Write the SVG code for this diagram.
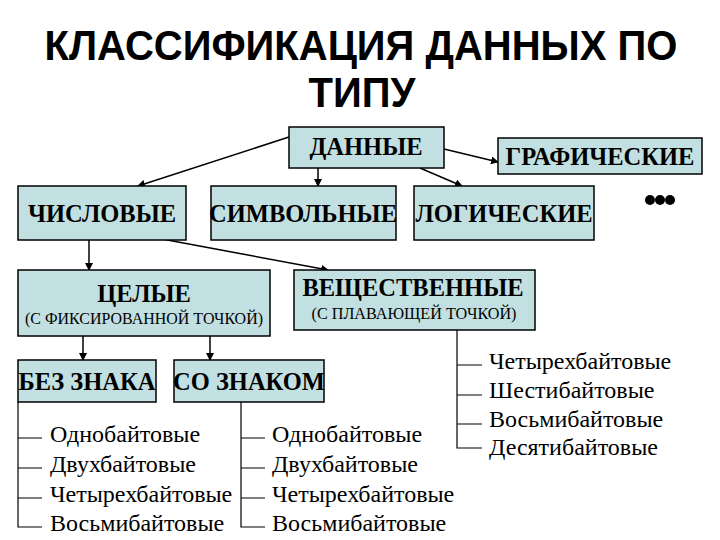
<svg xmlns="http://www.w3.org/2000/svg" width="720" height="540" viewBox="0 0 720 540">
<style>
.box{fill:#c2e0e1;stroke:#000;stroke-width:1.5}
.bt{font-family:"Liberation Serif",serif;font-weight:bold;font-size:24.5px;text-anchor:middle;fill:#000}
.st{font-family:"Liberation Serif",serif;font-size:16.5px;text-anchor:middle;fill:#000}
.lt{font-family:"Liberation Serif",serif;font-size:24px;fill:#000}
.title{font-family:"Liberation Sans",Arial,sans-serif;font-weight:bold;font-size:40px;text-anchor:middle;fill:#000}
.ln{stroke:#000;stroke-width:1.5;fill:none}
.br{stroke:#000;stroke-width:1.2;fill:none}
</style>
<defs>
<marker id="ah" markerWidth="8" markerHeight="8" refX="7" refY="4" orient="auto" markerUnits="userSpaceOnUse">
<path d="M0,0 L8,4 L0,8 Z" fill="#000"/>
</marker>
</defs>
<rect width="720" height="540" fill="#fff"/>
<g id="title">
<text class="title" transform="translate(361,60) scale(1,1.08)" x="0" y="0">КЛАССИФИКАЦИЯ ДАННЫХ ПО</text>
<text class="title" transform="translate(362,107) scale(1,1.08)" x="0" y="0">ТИПУ</text>
</g>
<g id="connectors">
<line class="ln" x1="289" y1="137" x2="138" y2="186" marker-end="url(#ah)"/>
<line class="ln" x1="318" y1="168" x2="318" y2="186" marker-end="url(#ah)"/>
<line class="ln" x1="444" y1="149" x2="498" y2="162" marker-end="url(#ah)"/>
<line class="ln" x1="420" y1="168" x2="462" y2="186" marker-end="url(#ah)"/>
<line class="ln" x1="89" y1="240" x2="89" y2="270" marker-end="url(#ah)"/>
<line class="ln" x1="162" y1="239" x2="328" y2="270" marker-end="url(#ah)"/>
<line class="ln" x1="83" y1="336" x2="83" y2="360" marker-end="url(#ah)"/>
<line class="ln" x1="210" y1="336" x2="210" y2="360" marker-end="url(#ah)"/>
<path class="br" d="M18,402 V527 H42 M18,438 H42 M18,468 H42 M18,498 H42"/>
<path class="br" d="M241,402 V527 H265 M241,438 H265 M241,468 H265 M241,498 H265"/>
<path class="br" d="M457,330 V448 H482 M457,365 H482 M457,395 H482 M457,424 H482"/>
</g>
<g id="n-dannye">
<rect class="box" x="289" y="127" width="155" height="41"/>
<text class="bt" x="366" y="155" font-size="22">ДАННЫЕ</text>
</g>
<g id="n-graf">
<rect class="box" x="498" y="138" width="204" height="36"/>
<text class="bt" x="600" y="165" font-size="23">ГРАФИЧЕСКИЕ</text>
</g>
<g id="n-chisl">
<rect class="box" x="18" y="186" width="168" height="54"/>
<text class="bt" x="102" y="222">ЧИСЛОВЫЕ</text>
</g>
<g id="n-simv">
<rect class="box" x="211" y="186" width="185" height="54"/>
<text class="bt" x="303" y="222">СИМВОЛЬНЫЕ</text>
</g>
<g id="n-log">
<rect class="box" x="414" y="186" width="180" height="54"/>
<text class="bt" x="504" y="222">ЛОГИЧЕСКИЕ</text>
</g>
<g id="n-dots">
<circle cx="650" cy="200" r="5" fill="#000"/>
<circle cx="660" cy="200" r="5" fill="#000"/>
<circle cx="670" cy="200" r="5" fill="#000"/>
</g>
<g id="n-celye">
<rect class="box" x="18" y="270" width="252" height="66"/>
<text class="bt" x="144" y="302" font-size="23.5">ЦЕЛЫЕ</text>
<text class="st" x="144" y="324" textLength="238" lengthAdjust="spacingAndGlyphs">(С ФИКСИРОВАННОЙ ТОЧКОЙ)</text>
</g>
<g id="n-vesh">
<rect class="box" x="294" y="270" width="241" height="60"/>
<text class="bt" x="413" y="296" font-size="23.5">ВЕЩЕСТВЕННЫЕ</text>
<text class="st" x="414" y="319" textLength="205" lengthAdjust="spacingAndGlyphs">(С ПЛАВАЮЩЕЙ ТОЧКОЙ)</text>
</g>
<g id="n-bez">
<rect class="box" x="18" y="360" width="138" height="42"/>
<text class="bt" x="87" y="390">БЕЗ ЗНАКА</text>
</g>
<g id="n-so">
<rect class="box" x="174" y="360" width="150" height="42"/>
<text class="bt" x="249" y="390" font-size="24">СО ЗНАКОМ</text>
</g>
<g id="list-bez">
<text class="lt" x="50" y="442">Однобайтовые</text>
<text class="lt" x="50" y="472">Двухбайтовые</text>
<text class="lt" x="50" y="502">Четырехбайтовые</text>
<text class="lt" x="50" y="531">Восьмибайтовые</text>
</g>
<g id="list-so">
<text class="lt" x="272" y="442">Однобайтовые</text>
<text class="lt" x="272" y="472">Двухбайтовые</text>
<text class="lt" x="272" y="502">Четырехбайтовые</text>
<text class="lt" x="272" y="531">Восьмибайтовые</text>
</g>
<g id="list-vesh">
<text class="lt" x="489" y="369">Четырехбайтовые</text>
<text class="lt" x="489" y="398">Шестибайтовые</text>
<text class="lt" x="489" y="427">Восьмибайтовые</text>
<text class="lt" x="489" y="455">Десятибайтовые</text>
</g>
</svg>
